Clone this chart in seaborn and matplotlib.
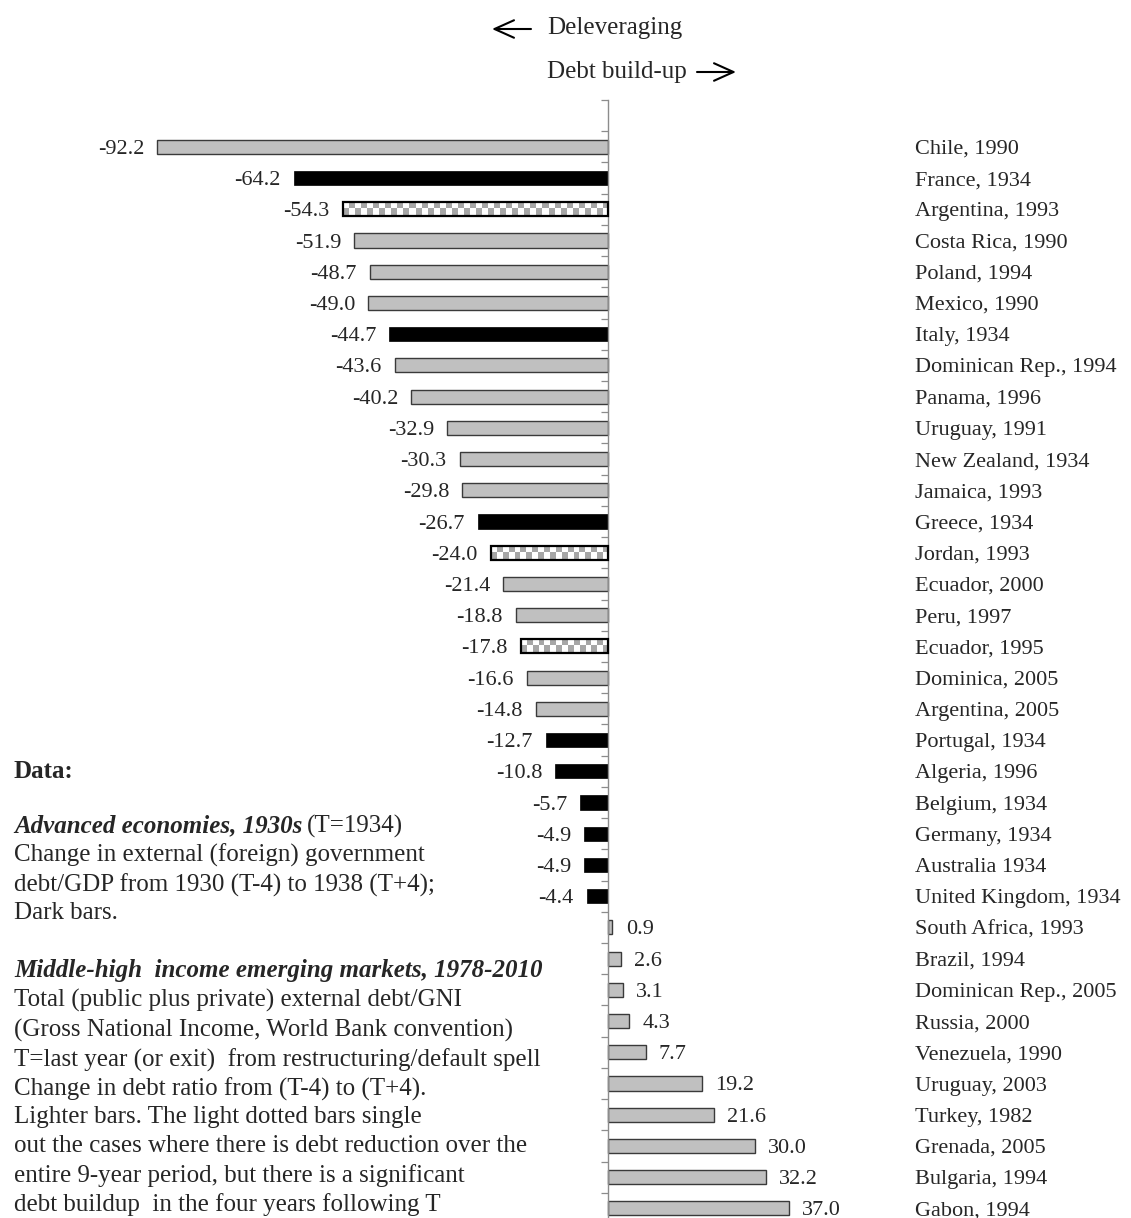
import numpy as np
import pandas as pd
import matplotlib
matplotlib.use("Agg")
import matplotlib.pyplot as plt
import seaborn as sns
from matplotlib.colors import ListedColormap

# ---------------- data ----------------
countries = [
    "Chile, 1990", "France, 1934", "Argentina, 1993", "Costa Rica, 1990",
    "Poland, 1994", "Mexico, 1990", "Italy, 1934", "Dominican Rep., 1994",
    "Panama, 1996", "Uruguay, 1991", "New Zealand, 1934", "Jamaica, 1993",
    "Greece, 1934", "Jordan, 1993", "Ecuador, 2000", "Peru, 1997",
    "Ecuador, 1995", "Dominica, 2005", "Argentina, 2005", "Portugal, 1934",
    "Algeria, 1996", "Belgium, 1934", "Germany, 1934", "Australia 1934",
    "United Kingdom, 1934", "South Africa, 1993", "Brazil, 1994",
    "Dominican Rep., 2005", "Russia, 2000", "Venezuela, 1990",
    "Uruguay, 2003", "Turkey, 1982", "Grenada, 2005", "Bulgaria, 1994",
    "Gabon, 1994",
]
values = [
    -92.2, -64.2, -54.3, -51.9, -48.7, -49.0, -44.7, -43.6, -40.2, -32.9,
    -30.3, -29.8, -26.7, -24.0, -21.4, -18.8, -17.8, -16.6, -14.8, -12.7,
    -10.8, -5.7, -4.9, -4.9, -4.4, 0.9, 2.6, 3.1, 4.3, 7.7,
    19.2, 21.6, 30.0, 32.2, 37.0,
]
groups = [
    "em", "adv", "dot", "em", "em", "em", "adv", "em", "em", "em",
    "em", "em", "adv", "dot", "em", "em", "dot", "em", "em", "adv",
    "adv", "adv", "adv", "adv", "adv", "em", "em", "em", "em", "em",
    "em", "em", "em", "em", "em",
]
group_order = ["em", "adv", "dot"]

df = pd.DataFrame({"country": countries, "value": values, "group": groups})

# ---------------- style ----------------
sns.set_theme(style="ticks")
plt.rcParams["font.family"] = ["Liberation Serif", "DejaVu Serif"]

W, H = 1131, 1218
fig = plt.figure(figsize=(W / 100, H / 100), dpi=100)
ax = fig.add_axes([100 / W, -6 / H, 800 / W, 1124 / H])

sns.barplot(
    data=df, x="value", y="country", hue="group", hue_order=group_order,
    order=countries, orient="h", dodge=False, width=0.45, saturation=1,
    palette={"em": "#C0C0C0", "adv": "black", "dot": "white"},
    legend=False, ax=ax,
)

n = len(countries)
ax.set_xlim(-103.9, 59.7)
ax.set_ylim(n - 0.5, -1.5)
ax.set_xlabel("")
ax.set_ylabel("")
ax.set_xticks([])

for s in ["top", "right", "bottom"]:
    ax.spines[s].set_visible(False)
ax.spines["left"].set_position(("data", 0))
ax.spines["left"].set_color("#8c8c8c")
ax.spines["left"].set_linewidth(1.0)

ax.set_yticks(range(n))
ax.set_yticklabels(countries)
ax.tick_params(axis="y", which="major", left=False, right=False,
               labelleft=False, labelright=True, length=0, pad=10.8,
               labelsize=16)
ax.set_yticks(np.arange(-1.5, n, 1.0), minor=True)
ax.tick_params(axis="y", which="minor", left=True, right=False,
               direction="out", length=5, width=0.9, color="#8c8c8c")

# style bars by group
cont = dict(zip(group_order, ax.containers))
for p in cont["em"]:
    p.set_edgecolor("#3a3a3a")
    p.set_linewidth(1.0)
for p in cont["adv"]:
    p.set_edgecolor("black")
    p.set_linewidth(0.5)

checker_cmap = ListedColormap(["white", "#a6a6a6"])
for p in cont["dot"]:
    p.set_facecolor("none")
    p.set_edgecolor("black")
    p.set_linewidth(1.6)
    p.set_zorder(3)
    x0, y0 = p.get_xy()
    w, h = p.get_width(), p.get_height()
    (px0, py0), (px1, py1) = ax.transData.transform([(x0, y0), (x0 + w, y0 + h)])
    ncols = max(1, int(round(abs(px1 - px0) / 6.0)))
    nrows = max(1, int(round(abs(py1 - py0) / 6.0)))
    arr = (np.add.outer(np.arange(nrows), np.arange(ncols)) % 2).astype(float)
    im = ax.imshow(arr, cmap=checker_cmap, vmin=0, vmax=1,
                   extent=[min(x0, x0 + w), max(x0, x0 + w),
                           max(y0, y0 + h), min(y0, y0 + h)],
                   interpolation="nearest", aspect="auto", zorder=2.9)
    im.set_clip_path(p)

ax.set_aspect("auto")
ax.set_xlim(-103.9, 59.7)
ax.set_ylim(n - 0.5, -1.5)

for c in ax.containers:
    labels = ax.bar_label(c, fmt="%.1f", padding=9.5, fontsize=16)
    for t in labels:
        t.set_va("center_baseline")

# ---------------- header arrows ----------------
def fy(y):
    return 1 - y / H

fig.text(547 / W, fy(28), "Deleveraging", fontsize=18, va="center", ha="left")
fig.text(547 / W, fy(72), "Debt build-up", fontsize=18, va="center", ha="left")
arrow_kw = dict(arrowstyle="->,head_length=1.0,head_width=0.45", lw=1.5,
                color="black", shrinkA=0, shrinkB=0, mutation_scale=14)
ax.annotate("", xy=(492, H - 29), xytext=(531, H - 29),
            xycoords="figure pixels", textcoords="figure pixels",
            arrowprops=arrow_kw, annotation_clip=False)
ax.annotate("", xy=(736, H - 72), xytext=(697, H - 72),
            xycoords="figure pixels", textcoords="figure pixels",
            arrowprops=arrow_kw, annotation_clip=False)

# ---------------- left notes ----------------
fs = 18
x_left = 14 / W
fig.text(x_left, fy(771), "Data:", fontsize=fs, fontweight="bold", va="center")

t1 = fig.text(x_left, fy(826), "Advanced economies, 1930s", fontsize=fs,
              fontweight="bold", fontstyle="italic", va="center")
fig.canvas.draw()
bb = t1.get_window_extent(renderer=fig.canvas.get_renderer())
fig.text((bb.x1 + 5) / W, fy(826), "(T=1934)", fontsize=fs, va="center")

lines1 = [
    (855, "Change in external (foreign) government"),
    (885, "debt/GDP from 1930 (T-4) to 1938 (T+4);"),
    (913, "Dark bars."),
]
for y, s in lines1:
    fig.text(x_left, fy(y), s, fontsize=fs, va="center")

fig.text(x_left, fy(970), "Middle-high  income emerging markets, 1978-2010",
         fontsize=fs, fontweight="bold", fontstyle="italic", va="center")
lines2 = [
    (1000, "Total (public plus private) external debt/GNI"),
    (1030, "(Gross National Income, World Bank convention)"),
    (1060, "T=last year (or exit)  from restructuring/default spell"),
    (1089, "Change in debt ratio from (T-4) to (T+4)."),
    (1117, "Lighter bars. The light dotted bars single"),
    (1146, "out the cases where there is debt reduction over the"),
    (1176, "entire 9-year period, but there is a significant"),
    (1205, "debt buildup  in the four years following T"),
]
for y, s in lines2:
    fig.text(x_left, fy(y), s, fontsize=fs, va="center")

fig.savefig("out.png", dpi=100)
